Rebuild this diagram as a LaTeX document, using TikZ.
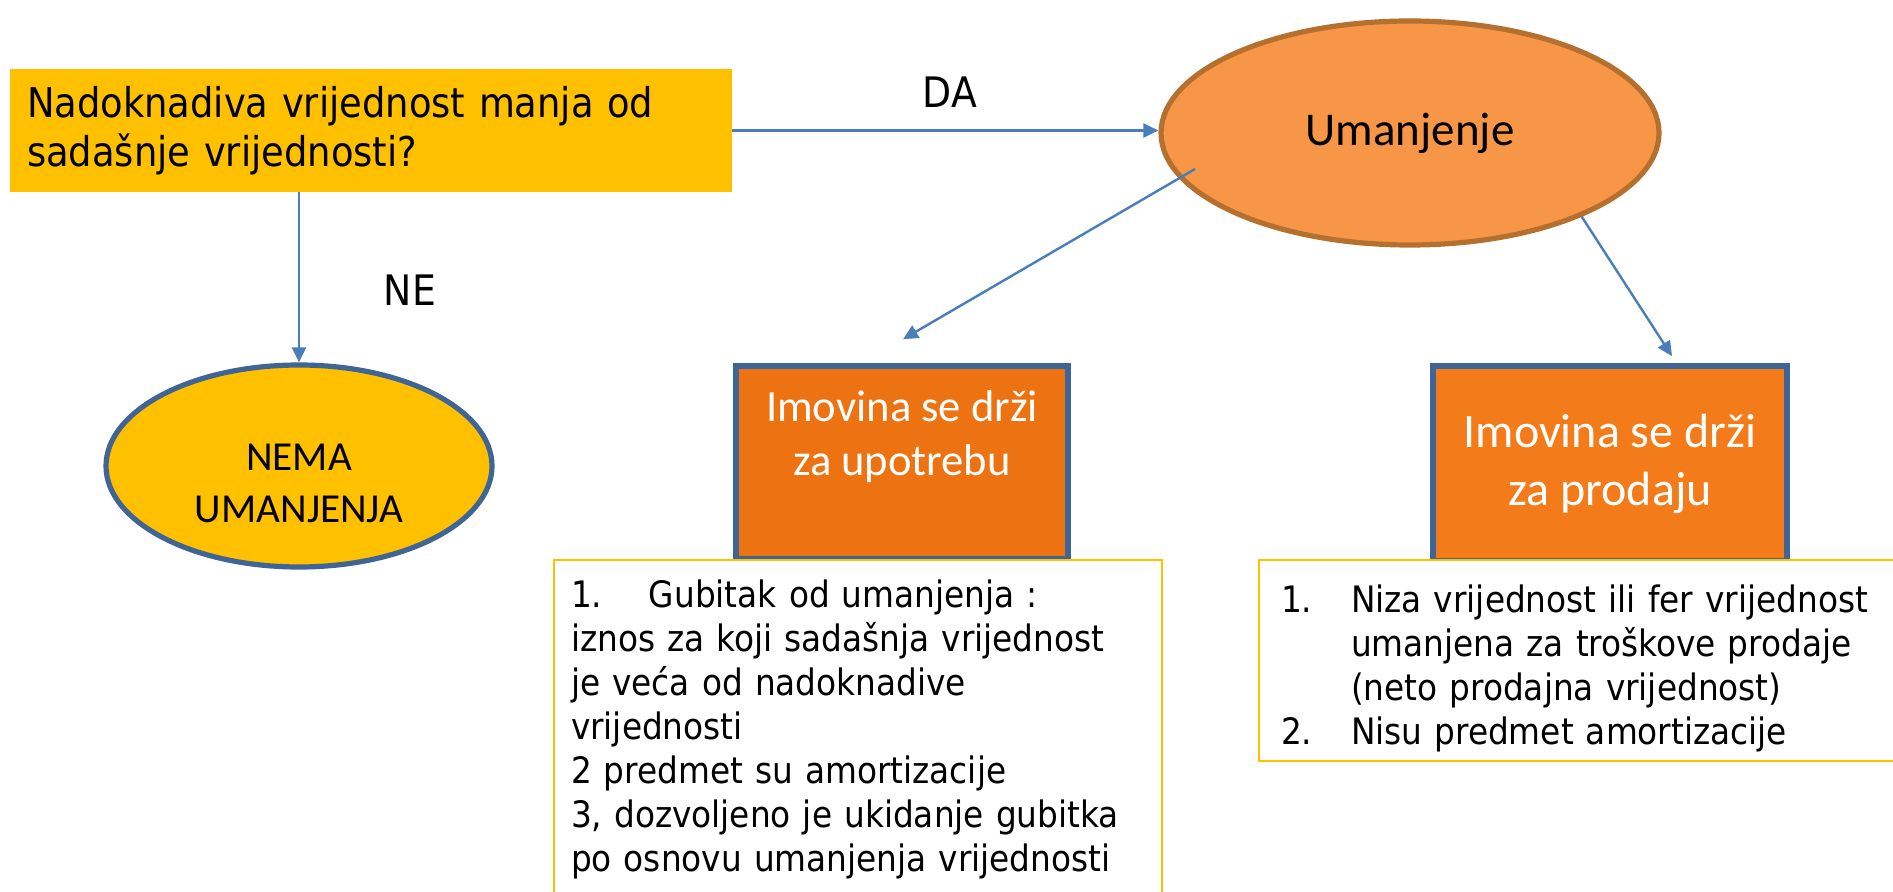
\documentclass[tikz,border=0pt]{standalone}
\usepackage{fontspec}
\setmainfont{DejaVu Sans Condensed}
\newfontfamily\calib{Carlito}
\usetikzlibrary{positioning,shapes.geometric,arrows.meta,calc}
\definecolor{gold}{HTML}{FFC000}
\definecolor{umorange}{HTML}{F79646}
\definecolor{umedge}{HTML}{B5702F}
\definecolor{useorange}{HTML}{EC7212}
\definecolor{saleorange}{HTML}{F47B1A}
\definecolor{boxedge}{HTML}{3F6496}
\definecolor{arrblue}{HTML}{4A7EBB}

\begin{document}
\begin{tikzpicture}[x=0.5pt, y=-0.5pt,
    arr/.style={draw=arrblue, line width=1.2pt, -{Triangle[length=7.5pt,width=7pt]}},
    oval/.style={ellipse, line width=2.6pt, inner sep=0pt, align=center},
    keepbox/.style={draw=boxedge, line width=2.8pt, text=white, align=center, inner sep=0pt},
    notes/.style={draw=gold, line width=1pt, fill=white, align=left, anchor=north west,
                  inner ysep=4pt, font=\fontsize{18.2}{22}\selectfont}]

  \useasboundingbox (0,0) rectangle (1893,892);

  % question and the two answers
  \node[fill=gold, minimum width=361pt, minimum height=61.5pt, text width=344pt,
        inner xsep=8.5pt, align=left, font=\fontsize{20.5}{24.5}\selectfont]
        (quest) at (371,130.5) {Nadoknadiva vrijednost manja od\\sadašnje vrijednosti?};
  \node[oval, fill=umorange, draw=umedge, minimum width=249pt, minimum height=112pt,
        font=\calib\fontsize{23.5}{28}\selectfont] (umanj) at (1410,133) {Umanjenje};
  \node[oval, fill=gold, draw=boxedge, minimum width=193pt, minimum height=101pt,
        font=\calib\fontsize{20.6}{26}\selectfont] (nema) at (299,466)
        {\mbox{}\\[5pt]NEMA\\UMANJENJA};
  \node[font=\fontsize{21}{25}\selectfont] (da) at (950,92) {DA};
  \node[font=\fontsize{21}{25}\selectfont] (ne) at (410,290) {NE};

  % the two kinds of assets
  \node[keepbox, fill=useorange, minimum width=166pt, minimum height=96.5pt,
        font=\calib\fontsize{22.3}{27}\selectfont] (upotreba) at (902,462.5)
        {Imovina se drži\\za upotrebu\\[2pt]\mbox{}};
  \node[keepbox, fill=saleorange, minimum width=177pt, minimum height=97.5pt,
        font=\calib\fontsize{24}{29}\selectfont] (prodaja) at (1610,463.5)
        {Imovina se drži\\za prodaju};

  % notes under them
  \node[notes, inner xsep=8.5pt, text width=287pt, text height=19.5pt, text depth=200pt]
        (useNotes) at (553,559)
        {\makebox[39pt][l]{1.}Gubitak od umanjenja :\\
         iznos za koji sadašnja vrijednost\\
         je veća od nadoknadive\\
         vrijednosti\\
         2 predmet su amortizacije\\
         3, dozvoljeno je ukidanje gubitka\\
         po osnovu umanjenja vrijednosti};
  \node[notes, inner xsep=11pt, text width=340pt, text height=22pt, text depth=70.5pt]
        (saleNotes) at (1258,559)
        {\makebox[35pt][l]{1.}Niza vrijednost ili fer vrijednost\\
         \hspace*{35pt}umanjena za troškove prodaje\\
         \hspace*{35pt}(neto prodajna vrijednost)\\
         \makebox[35pt][l]{2.}Nisu predmet amortizacije};

  \coordinate (upAt) at ($(upotreba.north)+(1,-24)$);
  \coordinate (proAt) at ($(prodaja.north)+(62,-7)$);

  \draw[arr] (quest.east) -- (quest.east -| umanj.west);
  \draw[arr] (nema.north |- quest.south) -- (nema.north);
  \draw[arr] ($(umanj.center)+(-215,36)$) -- (upAt);
  \draw[arr] (umanj.-26) -- (proAt);
\end{tikzpicture}
\end{document}
